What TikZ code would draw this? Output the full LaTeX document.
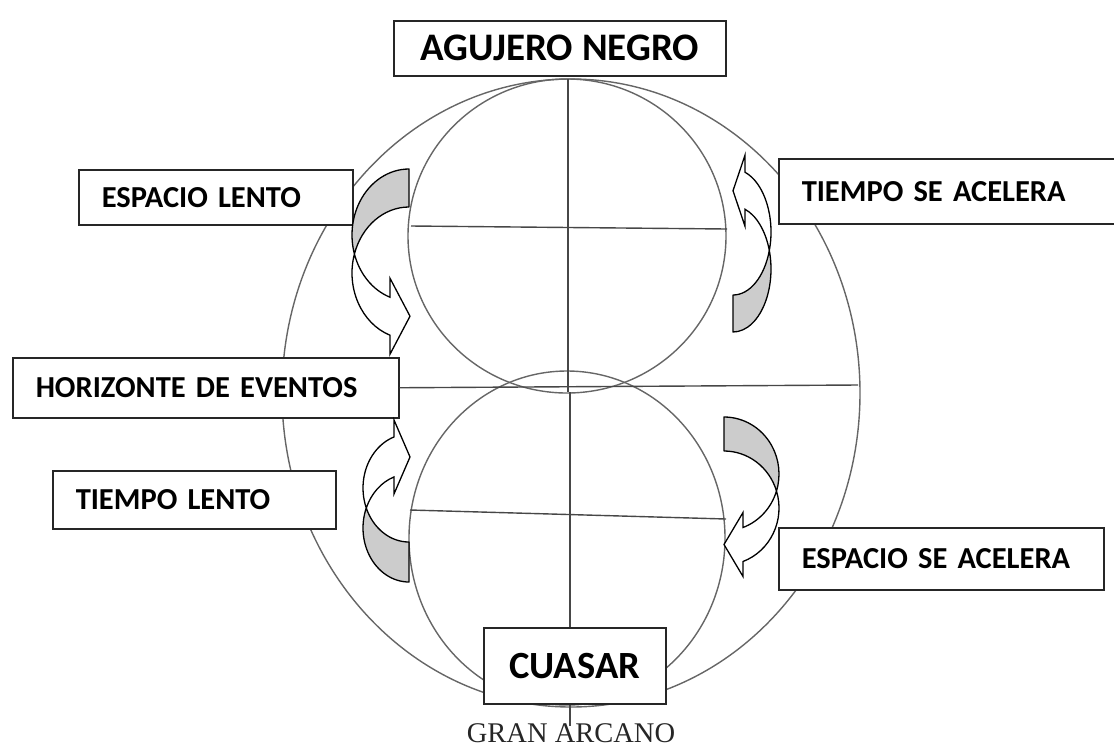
\documentclass[tikz,border=0pt]{standalone}
\usepackage{fontspec}
\newfontfamily\calibri{Carlito}
\newfontfamily\romanfont{Liberation Serif}
\usepackage{tikz}
\tikzset{>=latex}

\begin{document}
\begin{tikzpicture}[x=1pt,y=-1pt,
    ring/.style={line width=1.4pt,draw=black!60},
    axis/.style={line width=1.4pt,draw=black!72},
    labelbox/.style={draw=black!85,line width=1.5pt,fill=white,anchor=north west,
      font=\calibri\bfseries\fontsize{30.5}{32}\selectfont,inner xsep=23pt,inner ysep=0pt},
    leftbox/.style={labelbox,align=left},
    backpart/.style={draw=black,line width=1.3pt,fill=black!20,line join=round},
    frontpart/.style={draw=black,line width=1.3pt,fill=white,line join=miter}]

  \useasboundingbox (0,0) rectangle (1114,748);

  % HELP FUNCTION
  \def\bentArrow(#1,#2,#3,#4,#5,#6){ % x radius, y radius, band, barb offset, barb length, tip length
    \pgfmathsetmacro\cross{asin(#3/(2*#2))}
    \pgfmathsetmacro\turn{acos(-#4/#1)}
    \pgfmathsetmacro\ya{#2*(1+sin(\turn))}
    \pgfmathsetmacro\yb{\ya+#3}
    \pgfmathsetmacro\xc{-#1*cos(\cross)}
    \pgfmathsetmacro\yc{#2+#3/2}
    % back part
    \draw[backpart] (0,0)
      arc[start angle=270,end angle=180-\cross,x radius=#1,y radius=#2]
      arc[start angle=180+\cross,end angle=270,x radius=#1,y radius=#2] -- cycle;
    % front part
    \draw[frontpart] (\xc,\yc)
      arc[start angle=180-\cross,end angle=\turn,x radius=#1,y radius=#2]
      -- (-#4,\ya-#5) -- (-#4+#6,{(\ya+\yb)/2}) -- (-#4,\yb+#5) -- (-#4,\yb)
      arc[start angle=\turn,end angle=180+\cross,x radius=#1,y radius=#2] -- cycle;
  }

  % RINGS
  \draw[ring] (571,393) ellipse [x radius=289,y radius=314]; % gran arcano
  \draw[ring] (567,236) ellipse [x radius=159,y radius=157]; % agujero negro
  \draw[ring] (567,538) ellipse [x radius=158,y radius=167]; % cuasar

  % AXES
  \coordinate (topN) at (568,79);
  \coordinate (midN) at (568,392);
  \coordinate (midS) at (570,392);
  \coordinate (baseS) at (570,726);
  \coordinate (rimE) at (858,385);
  \draw[axis] (topN) -- (midN);
  \draw[axis] (midS) -- (baseS);
  \draw[axis] (411,226) -- (727,229);
  \draw[axis] (410,510) -- (726,519);

  % BOXES
  \node[labelbox,minimum width=332,minimum height=55,
        font=\calibri\bfseries\fontsize{39}{42}\selectfont] (agujero) at (393,20) {AGUJERO NEGRO\hspace{6pt}};
  \node[leftbox,text width=228,minimum height=55] (espLento) at (78,169) {ESPACIO LENTO};
  \node[leftbox,text width=300,minimum height=65] (tpoAcel) at (778,158) {TIEMPO SE ACELERA};
  \node[leftbox,text width=340,minimum height=60] (horizonte) at (12,357) {HORIZONTE DE EVENTOS};
  \node[leftbox,text width=237,minimum height=58] (tpoLento) at (52,470) {TIEMPO LENTO};
  \node[leftbox,text width=279,minimum height=62] (espAcel) at (778,527) {ESPACIO SE ACELERA};
  \node[labelbox,minimum width=182,minimum height=76,
        font=\calibri\bfseries\fontsize{38.5}{41}\selectfont] (cuasar) at (483,627) {CUASAR};
  \node[font=\romanfont\fontsize{28.5}{30}\selectfont,text=black!85,inner sep=0pt]
        (arcano) at (571,733) {GRAN ARCANO};

  \draw[axis] (horizonte.east) -- (rimE);

  % ARROWS
  \begin{scope}[shift={(409,169)}]
    \bentArrow(57,66,38,19,19,20)
  \end{scope}
  \begin{scope}[shift={(733,332)},rotate=180]
    \bentArrow(38,63,37,12,17,12)
  \end{scope}
  \begin{scope}[shift={(409,582)},yscale=-1]
    \bentArrow(46,54,40,15,17,16)
  \end{scope}
  \begin{scope}[shift={(724,417)},xscale=-1]
    \bentArrow(55,57,34,19,15,19)
  \end{scope}

\end{tikzpicture}
\end{document}
